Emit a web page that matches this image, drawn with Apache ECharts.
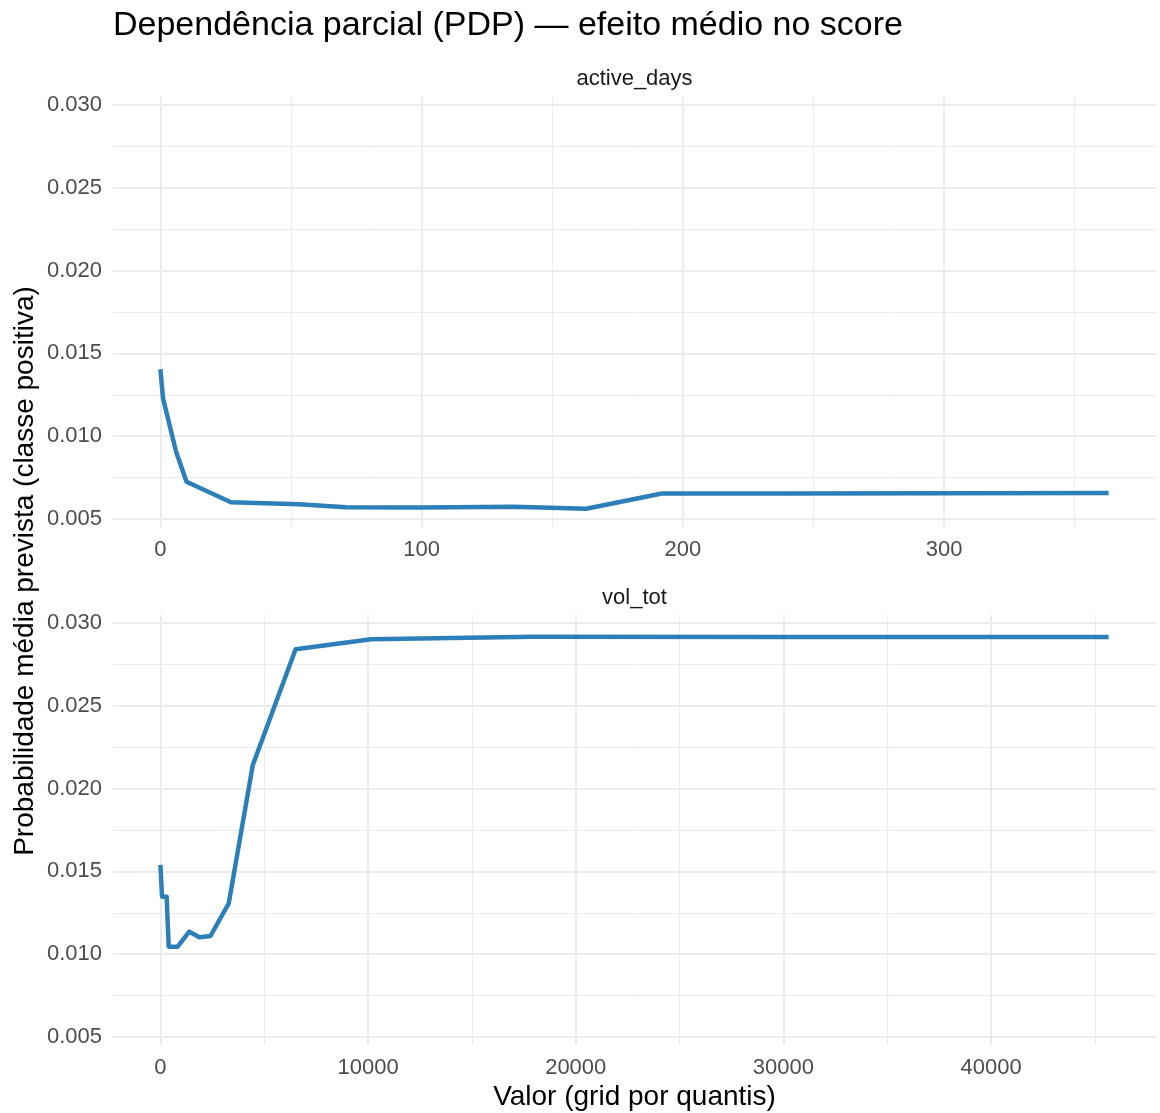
<!DOCTYPE html>
<html>
<head>
<meta charset="utf-8">
<title>Dependência parcial (PDP)</title>
<script src="https://cdn.jsdelivr.net/npm/echarts@6/dist/echarts.min.js"></script>
<style>
  html, body { margin: 0; padding: 0; background: #ffffff; }
  #chart { width: 1160px; height: 1113px; }
</style>
</head>
<body>
<div id="chart"></div>
<script>
// Partial dependence: grid points (quantiles) and mean predicted probability
const activeDaysX = [0, 1, 6, 10, 27, 53, 71, 100, 135, 163, 192, 240, 300, 363];
const activeDaysY = [0.01404, 0.01229, 0.00906, 0.00725, 0.00601, 0.00589, 0.00571, 0.00569, 0.00574, 0.00562, 0.00654, 0.00654, 0.00655, 0.00657];

const volTotX = [0, 80, 300, 400, 830, 1390, 1880, 2410, 3290, 4450, 6510, 10150, 17930, 30000, 45660];
const volTotY = [0.01539, 0.01347, 0.01347, 0.01045, 0.01045, 0.01136, 0.01102, 0.01110, 0.01307, 0.02143, 0.02841, 0.02902, 0.02917, 0.02916, 0.02915];

// Shared probability scale of both facets (already padded)
const yLimits = [0.004517, 0.030483];

const facetNames = ['active_days', 'vol_tot'];
const chartTitle = 'Dependência parcial (PDP) — efeito médio no score';
const xTitle = 'Valor (grid por quantis)';
const yTitle = 'Probabilidade média prevista (classe positiva)';

// ggplot-style 5% expansion of a continuous range
function expand(vals) {
  const lo = Math.min.apply(null, vals), hi = Math.max.apply(null, vals);
  const pad = (hi - lo) * 0.05;
  return [lo - pad, hi + pad];
}

const xLimA = expand(activeDaysX);
const xLimB = expand(volTotX);

const FONT = 'Arial, "Liberation Sans", sans-serif';
const GRID_COLOR = '#EBEBEB';
const LINE_COLOR = '#2C7FB8';

const panelLeft = 113, panelRight = 4, panelH = 430;
const panelTops = [97, 615];

function xAxisFor(idx, lim) {
  return {
    type: 'value', gridIndex: idx, min: lim[0], max: lim[1],
    axisLine: { show: false }, axisTick: { show: false },
    minorTick: { show: false, splitNumber: 2 },
    axisLabel: {
      color: '#4D4D4D', fontSize: 22, fontFamily: FONT, margin: 12,
      showMinLabel: false, showMaxLabel: false,
      formatter: v => String(Math.round(v))
    },
    splitLine: { show: true, showMinLine: false, showMaxLine: false,
                 lineStyle: { color: GRID_COLOR, width: 2 } },
    minorSplitLine: { show: true, lineStyle: { color: GRID_COLOR, width: 1 } }
  };
}

function yAxisFor(idx) {
  return {
    type: 'value', gridIndex: idx, min: yLimits[0], max: yLimits[1],
    axisLine: { show: false }, axisTick: { show: false },
    minorTick: { show: false, splitNumber: 2 },
    axisLabel: {
      color: '#4D4D4D', fontSize: 22, fontFamily: FONT, margin: 11,
      showMinLabel: false, showMaxLabel: false,
      formatter: v => v.toFixed(3)
    },
    splitLine: { show: true, showMinLine: false, showMaxLine: false,
                 lineStyle: { color: GRID_COLOR, width: 2 } },
    minorSplitLine: { show: true, lineStyle: { color: GRID_COLOR, width: 1 } }
  };
}

function pairs(xs, ys) { return xs.map((x, i) => [x, ys[i]]); }

const chart = echarts.init(document.getElementById('chart'), null, { renderer: 'canvas' });

const panelCenterX = panelLeft + (1160 - panelLeft - panelRight) / 2;

chart.setOption({
  backgroundColor: '#ffffff',
  animation: false,
  grid: panelTops.map(t => ({ left: panelLeft, right: panelRight, top: t, height: panelH, containLabel: false })),
  xAxis: [xAxisFor(0, xLimA), xAxisFor(1, xLimB)],
  yAxis: [yAxisFor(0), yAxisFor(1)],
  series: [
    { type: 'line', xAxisIndex: 0, yAxisIndex: 0, data: pairs(activeDaysX, activeDaysY),
      showSymbol: false, lineStyle: { color: LINE_COLOR, width: 4.5, cap: 'butt', join: 'round' } },
    { type: 'line', xAxisIndex: 1, yAxisIndex: 1, data: pairs(volTotX, volTotY),
      showSymbol: false, lineStyle: { color: LINE_COLOR, width: 4.5, cap: 'butt', join: 'round' } }
  ],
  graphic: [
    { type: 'text', left: 113, top: 9,
      style: { text: chartTitle, font: '34px ' + FONT, fill: '#000000' } },
    { type: 'text', x: panelCenterX, y: 79,
      style: { text: facetNames[0], font: '22px ' + FONT, fill: '#1A1A1A', textAlign: 'center', textVerticalAlign: 'middle' } },
    { type: 'text', x: panelCenterX, y: 598,
      style: { text: facetNames[1], font: '22px ' + FONT, fill: '#1A1A1A', textAlign: 'center', textVerticalAlign: 'middle' } },
    { type: 'text', x: panelCenterX, y: 1097,
      style: { text: xTitle, font: '28px ' + FONT, fill: '#000000', textAlign: 'center', textVerticalAlign: 'middle' } },
    { type: 'text', x: 25, y: 571, rotation: Math.PI / 2,
      style: { text: yTitle, font: '28px ' + FONT, fill: '#000000', textAlign: 'center', textVerticalAlign: 'middle' } }
  ]
});
</script>
</body>
</html>
